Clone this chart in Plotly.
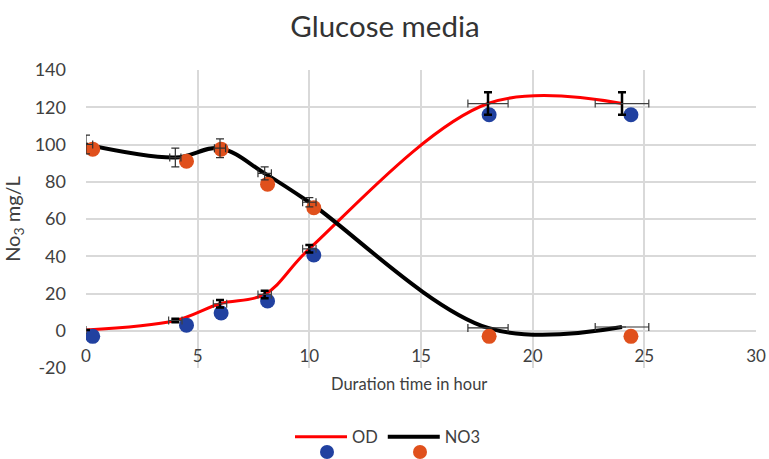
import plotly.graph_objects as go

# Smoothed line series
line_x = [0, 4, 6, 8, 10, 18, 24]
od_line = [0.4, 5.5, 14.5, 19.5, 44, 122, 122]
no3_line = [100, 93, 98, 84.5, 69, 1.5, 2]

# Error bars
od_err_y = [0, 1, 2, 2, 2, 6, 6]
od_err_x = [0, 0.3, 0.3, 0.3, 0.3, 0.9, 1.2]
no3_err_y = [5, 5, 5, 3.5, 2.5, 0, 0]
no3_err_x = [0.3, 0.25, 0.25, 0.3, 0.3, 0.9, 1.2]

# Measured points
dot_x = [0.3, 4.5, 6.05, 8.13, 10.2, 18.05, 24.4]
od_dots = [-3, 3, 9.5, 16, 40.7, 116, 116]
no3_dots = [97.5, 91, 97.5, 78.7, 66, -3, -3]

x_ticks = [0, 5, 10, 15, 20, 25, 30]
y_ticks = [-20, 0, 20, 40, 60, 80, 100, 120, 140]

RED = "#FF0000"
BLACK = "#000000"
BLUE = "#2141A0"
ORANGE = "#E0501C"
FONT = "Lato"
TXT = "#404040"

fig = go.Figure()

fig.add_trace(go.Scatter(x=line_x, y=od_line, mode="lines", name="OD",
                         line=dict(color=RED, width=3, shape="spline", smoothing=1),
                         showlegend=True))
fig.add_trace(go.Scatter(x=line_x, y=no3_line, mode="lines", name="NO3",
                         line=dict(color=BLACK, width=4, shape="spline", smoothing=1),
                         showlegend=True))

fig.add_trace(go.Scatter(x=dot_x, y=od_dots, mode="markers", showlegend=False,
                         marker=dict(color=BLUE, size=15)))
fig.add_trace(go.Scatter(x=dot_x, y=no3_dots, mode="markers", showlegend=False,
                         marker=dict(color=ORANGE, size=15)))

fig.add_trace(go.Scatter(x=line_x, y=od_line, mode="markers", showlegend=False,
                         marker=dict(size=1, opacity=0),
                         error_y=dict(type="data", array=od_err_y, color=BLACK, thickness=2.5, width=4),
                         error_x=dict(type="data", array=od_err_x, color="#404040", thickness=1.2, width=4)))
fig.add_trace(go.Scatter(x=line_x, y=no3_line, mode="markers", showlegend=False,
                         marker=dict(size=1, opacity=0),
                         error_y=dict(type="data", array=no3_err_y, color="#303030", thickness=1.2, width=4),
                         error_x=dict(type="data", array=no3_err_x, color="#303030", thickness=1.2, width=4)))

L, R, T, B = 86, 13, 70, 91
W, H = 769, 459
pw, ph = W - L - R, H - T - B

fig.update_layout(
    width=W, height=H,
    margin=dict(l=L, r=R, t=T, b=B, autoexpand=False),
    paper_bgcolor="white", plot_bgcolor="white",
    hovermode=False,
    font=dict(family=FONT, color=TXT, size=17),
    title=dict(text="Glucose media", x=(385) / W, xanchor="center", y=1 - 27 / H, yanchor="middle",
               font=dict(size=29.5, color="#333333", family=FONT)),
    xaxis=dict(range=[0, 30], tickvals=x_ticks, ticktext=[str(v) for v in x_ticks],
               showgrid=True, gridcolor="#D9D9D9", gridwidth=1.5, zeroline=False,
               anchor="free", position=20 / 160, ticks="", ticklabelstandoff=13,
               tickfont=dict(size=17, color=TXT), showline=False, automargin=False),
    yaxis=dict(range=[-20, 140], tickvals=y_ticks, ticktext=[str(v) for v in y_ticks],
               showgrid=True, gridcolor="#D9D9D9", gridwidth=1.5, zeroline=False,
               ticks="", ticklabelstandoff=19, automargin=False,
               tickfont=dict(size=18, color=TXT),
               title=dict(text="No<sub>3</sub> mg/L", font=dict(size=20, color=TXT), standoff=10)),
    legend=dict(orientation="h", x=(290 - L) / pw, xanchor="left", y=(T + ph - 437) / ph,
                yanchor="middle", font=dict(size=16.5, color=TXT), bgcolor="rgba(0,0,0,0)",
                itemwidth=52),
    annotations=[dict(text="Duration time in hour", xref="paper", yref="paper",
                      x=(409 - L) / pw, y=(T + ph - 384) / ph, xanchor="center", yanchor="middle",
                      showarrow=False, font=dict(size=16.5, color=TXT))],
)

# legend marker decorations (below legend line samples)
for cx, col in [(327, BLUE), (420, ORANGE)]:
    fig.add_shape(type="circle", xref="paper", yref="paper",
                  xsizemode="pixel", ysizemode="pixel",
                  xanchor=(cx - L) / pw, yanchor=(T + ph - 452) / ph,
                  x0=-7, x1=7, y0=-7, y1=7, fillcolor=col, line=dict(width=0))

fig.write_html("out.html", config={"displayModeBar": False},
               post_script="document.body.style.margin='0';")
